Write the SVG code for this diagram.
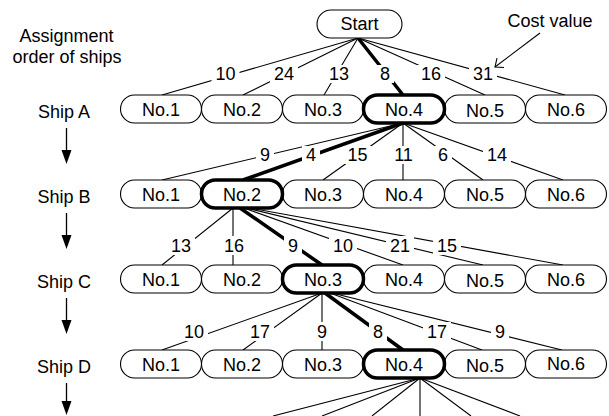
<svg xmlns="http://www.w3.org/2000/svg" width="609" height="416" viewBox="0 0 609 416">
  <style>
    text { font-family: "Liberation Sans", Arial, Helvetica, sans-serif; font-size: 18px; fill: #000; }
    .mid { text-anchor: middle; }
    .pill { fill: #fff; stroke: #000; stroke-width: 1.1; }
    .pill.sel { stroke-width: 3.5; }
    .edge { stroke: #000; stroke-width: 1.1; fill: none; }
    .edge.sel { stroke-width: 3.5; }
    .gap { fill: #fff; stroke: none; }
    .flow { stroke: #000; stroke-width: 1.3; }
  </style>
  <defs>
    <marker id="down" markerUnits="userSpaceOnUse" markerWidth="11" markerHeight="15" refX="5.5" refY="14" orient="auto-start-reverse" viewBox="0 0 11 15">
      <path d="M0.5,0 L10.5,0 L5.5,14 Z" fill="#000"/>
    </marker>
  </defs>

  <rect width="609" height="416" fill="#fff"/>

  <!-- side heading and ship order -->
  <g id="heading">
    <text class="mid" x="66.5" y="42">Assignment</text>
    <text class="mid" x="67" y="63">order of ships</text>
  </g>
  <g id="ship-order">
    <text class="mid" x="64" y="118">Ship A</text>
    <text class="mid" x="64" y="203">Ship B</text>
    <text class="mid" x="64" y="288">Ship C</text>
    <text class="mid" x="64" y="373">Ship D</text>
    <line class="flow" x1="66.5" y1="128" x2="66.5" y2="152" />
    <polygon points="61.5,150 71.5,150 66.5,164" fill="#000"/>
    <line class="flow" x1="66.5" y1="213" x2="66.5" y2="237" />
    <polygon points="61.5,235 71.5,235 66.5,249" fill="#000"/>
    <line class="flow" x1="66.5" y1="298" x2="66.5" y2="322" />
    <polygon points="61.5,320 71.5,320 66.5,334" fill="#000"/>
    <line class="flow" x1="66.5" y1="383" x2="66.5" y2="403" />
    <polygon points="61.5,401 71.5,401 66.5,415" fill="#000"/>
  </g>

  <!-- branches between levels -->
  <g id="connectors">
    <!-- Start to ship A -->
    <line class="edge" x1="358" y1="38" x2="162" y2="95"/>
    <line class="edge" x1="358" y1="38" x2="243" y2="95"/>
    <line class="edge" x1="358" y1="38" x2="324" y2="95"/>
    <line class="edge sel" x1="358" y1="38" x2="403" y2="95"/>
    <line class="edge" x1="358" y1="38" x2="485" y2="95"/>
    <line class="edge" x1="358" y1="38" x2="565" y2="95"/>
    <!-- ship A No.4 to ship B -->
    <line class="edge" x1="403" y1="123" x2="162" y2="180"/>
    <line class="edge sel" x1="403" y1="123" x2="243" y2="180"/>
    <line class="edge" x1="403" y1="123" x2="323" y2="180"/>
    <line class="edge" x1="403" y1="123" x2="403" y2="180"/>
    <line class="edge" x1="403" y1="123" x2="483" y2="180"/>
    <line class="edge" x1="403" y1="123" x2="563" y2="180"/>
    <!-- ship B No.2 to ship C -->
    <line class="edge" x1="233" y1="208" x2="162" y2="265"/>
    <line class="edge" x1="233" y1="208" x2="233" y2="265"/>
    <line class="edge sel" x1="240" y1="208" x2="322" y2="265"/>
    <line class="edge" x1="244" y1="208" x2="403" y2="265"/>
    <line class="edge" x1="246" y1="208" x2="483" y2="265"/>
    <line class="edge" x1="250" y1="208" x2="563" y2="265"/>
    <!-- ship C No.3 to ship D -->
    <line class="edge" x1="322" y1="293" x2="162" y2="350"/>
    <line class="edge" x1="322" y1="293" x2="243" y2="350"/>
    <line class="edge" x1="322" y1="293" x2="322" y2="350"/>
    <line class="edge sel" x1="325" y1="293" x2="403" y2="350"/>
    <line class="edge" x1="330" y1="293" x2="482" y2="350"/>
    <line class="edge" x1="332" y1="293" x2="562" y2="350"/>
    <!-- ship D No.4 onward -->
    <line class="edge" x1="420" y1="378" x2="273" y2="416"/>
    <line class="edge" x1="420" y1="378" x2="322" y2="416"/>
    <line class="edge" x1="420" y1="378" x2="372" y2="416"/>
    <line class="edge" x1="420" y1="378" x2="420" y2="416"/>
    <line class="edge" x1="420" y1="378" x2="471" y2="416"/>
    <line class="edge" x1="420" y1="378" x2="520" y2="416"/>
  </g>

  <!-- cost values on the branches -->
  <g id="cost-labels">
    <g class="gap">
      <rect x="211.5" y="65" width="28" height="18"/>
      <rect x="270" y="65" width="28" height="18"/>
      <rect x="325" y="65" width="28" height="18"/>
      <rect x="376" y="65" width="18" height="18"/>
      <rect x="417" y="65" width="28" height="18"/>
      <rect x="469" y="65" width="28" height="18"/>

      <rect x="256" y="146" width="18" height="18"/>
      <rect x="302" y="146" width="18" height="18"/>
      <rect x="343.5" y="146" width="28" height="18"/>
      <rect x="389.5" y="146" width="28" height="18"/>
      <rect x="434" y="146" width="18" height="18"/>
      <rect x="483" y="146" width="28" height="18"/>

      <rect x="167" y="236" width="28" height="19"/>
      <rect x="220" y="236" width="28" height="19"/>
      <rect x="284" y="236" width="18" height="19"/>
      <rect x="329" y="236" width="28" height="19"/>
      <rect x="386" y="236" width="28" height="19"/>
      <rect x="433" y="236" width="28" height="19"/>

      <rect x="180" y="322" width="28" height="19"/>
      <rect x="246" y="322" width="28" height="19"/>
      <rect x="313" y="322" width="18" height="19"/>
      <rect x="369" y="322" width="18" height="19"/>
      <rect x="423" y="322" width="28" height="19"/>
      <rect x="491" y="322" width="18" height="19"/>
    </g>
    <text class="mid" x="225.5" y="80">10</text>
    <text class="mid" x="284" y="80">24</text>
    <text class="mid" x="339" y="80">13</text>
    <text class="mid" x="385" y="80">8</text>
    <text class="mid" x="431" y="80">16</text>
    <text class="mid" x="483" y="80">31</text>

    <text class="mid" x="265" y="161">9</text>
    <text class="mid" x="311" y="161">4</text>
    <text class="mid" x="357.5" y="161">15</text>
    <text class="mid" x="403.5" y="161">11</text>
    <text class="mid" x="443" y="161">6</text>
    <text class="mid" x="497" y="161">14</text>

    <text class="mid" x="181" y="252">13</text>
    <text class="mid" x="234" y="252">16</text>
    <text class="mid" x="293" y="252">9</text>
    <text class="mid" x="343" y="252">10</text>
    <text class="mid" x="400" y="252">21</text>
    <text class="mid" x="447" y="252">15</text>

    <text class="mid" x="194" y="338">10</text>
    <text class="mid" x="260" y="338">17</text>
    <text class="mid" x="322" y="338">9</text>
    <text class="mid" x="378" y="338">8</text>
    <text class="mid" x="437" y="338">17</text>
    <text class="mid" x="500" y="338">9</text>
  </g>

  <!-- start node -->
  <g id="start">
    <rect class="pill" x="317" y="10" width="85" height="28" rx="14"/>
    <text class="mid" x="359.5" y="30">Start</text>
  </g>

  <!-- ship A candidates -->
  <g id="a1"><rect class="pill" x="120.5" y="95" width="81" height="28" rx="14"/><text class="mid" x="161" y="116">No.1</text></g>
  <g id="a2"><rect class="pill" x="201.5" y="95" width="81" height="28" rx="14"/><text class="mid" x="242" y="116">No.2</text></g>
  <g id="a3"><rect class="pill" x="282.5" y="95" width="81" height="28" rx="14"/><text class="mid" x="323" y="116">No.3</text></g>
  <g id="a5"><rect class="pill" x="444.5" y="95" width="81" height="28" rx="14"/><text class="mid" x="485" y="117">No.5</text></g>
  <g id="a6"><rect class="pill" x="525.5" y="95" width="81" height="28" rx="14"/><text class="mid" x="566" y="116">No.6</text></g>
  <g id="a4"><rect class="pill sel" x="363.5" y="95" width="81" height="28" rx="14"/><text class="mid" x="404" y="116">No.4</text></g>

  <!-- ship B candidates -->
  <g id="b1"><rect class="pill" x="120.5" y="180" width="81" height="28" rx="14"/><text class="mid" x="161" y="201">No.1</text></g>
  <g id="b3"><rect class="pill" x="282.5" y="180" width="81" height="28" rx="14"/><text class="mid" x="323" y="201">No.3</text></g>
  <g id="b4"><rect class="pill" x="363.5" y="180" width="81" height="28" rx="14"/><text class="mid" x="404" y="201">No.4</text></g>
  <g id="b5"><rect class="pill" x="444.5" y="180" width="81" height="28" rx="14"/><text class="mid" x="485" y="201">No.5</text></g>
  <g id="b6"><rect class="pill" x="525.5" y="180" width="81" height="28" rx="14"/><text class="mid" x="566" y="201">No.6</text></g>
  <g id="b2"><rect class="pill sel" x="201.5" y="180" width="81" height="28" rx="14"/><text class="mid" x="242" y="201">No.2</text></g>

  <!-- ship C candidates -->
  <g id="c1"><rect class="pill" x="120.5" y="265" width="81" height="28" rx="14"/><text class="mid" x="161" y="286">No.1</text></g>
  <g id="c2"><rect class="pill" x="201.5" y="265" width="81" height="28" rx="14"/><text class="mid" x="242" y="286">No.2</text></g>
  <g id="c4"><rect class="pill" x="363.5" y="265" width="81" height="28" rx="14"/><text class="mid" x="404" y="286">No.4</text></g>
  <g id="c5"><rect class="pill" x="444.5" y="265" width="81" height="28" rx="14"/><text class="mid" x="485" y="287">No.5</text></g>
  <g id="c6"><rect class="pill" x="525.5" y="265" width="81" height="28" rx="14"/><text class="mid" x="566" y="286">No.6</text></g>
  <g id="c3"><rect class="pill sel" x="282.5" y="265" width="81" height="28" rx="14"/><text class="mid" x="323" y="286">No.3</text></g>

  <!-- ship D candidates -->
  <g id="d1"><rect class="pill" x="120.5" y="350" width="81" height="28" rx="14"/><text class="mid" x="161" y="371">No.1</text></g>
  <g id="d2"><rect class="pill" x="201.5" y="350" width="81" height="28" rx="14"/><text class="mid" x="242" y="371">No.2</text></g>
  <g id="d3"><rect class="pill" x="282.5" y="350" width="81" height="28" rx="14"/><text class="mid" x="323" y="371">No.3</text></g>
  <g id="d5"><rect class="pill" x="444.5" y="350" width="81" height="28" rx="14"/><text class="mid" x="485" y="372">No.5</text></g>
  <g id="d6"><rect class="pill" x="525.5" y="350" width="81" height="28" rx="14"/><text class="mid" x="566" y="370">No.6</text></g>
  <g id="d4"><rect class="pill sel" x="363.5" y="350" width="81" height="28" rx="14"/><text class="mid" x="404" y="371">No.4</text></g>

  <!-- callout -->
  <g id="cost-note">
    <text class="mid" x="550" y="27">Cost value</text>
    <line class="edge" x1="540" y1="33" x2="495" y2="67"/>
    <polyline class="edge" points="504,67.5 495,67 497,58.2"/>
  </g>
</svg>
